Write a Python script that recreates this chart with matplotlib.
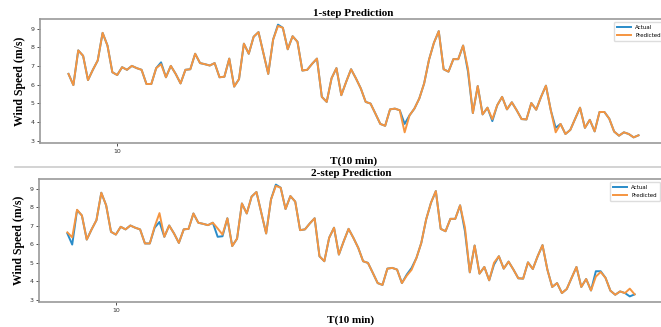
import matplotlib
matplotlib.use('Agg')
import matplotlib.pyplot as plt
from matplotlib.lines import Line2D
import numpy as np

# velocidade real do vento (m/s), mesma serie nos dois paineis
real = [6.58, 5.98, 7.84, 7.55, 6.25, 6.8, 7.3, 8.78, 8.1, 6.67,
        6.52, 6.94, 6.8, 7.01, 6.89, 6.8, 6.04, 6.04, 6.89, 7.2,
        6.4, 7.01, 6.58, 6.07, 6.8, 6.83, 7.66, 7.16, 7.1, 7.03,
        7.16, 6.4, 6.43, 7.4, 5.9, 6.3, 8.2, 7.66, 8.57, 8.82,
        7.7, 6.58, 8.42, 9.22, 9.05, 7.9, 8.6, 8.3, 6.76, 6.8,
        7.12, 7.4, 5.35, 5.08, 6.35, 6.89, 5.44, 6.16, 6.83, 6.34,
        5.8, 5.08, 4.99, 4.45, 3.9, 3.8, 4.68, 4.72, 4.63, 3.9,
        4.36, 4.72, 5.26, 6.07, 7.34, 8.24, 8.87, 6.83, 6.7, 7.37,
        7.37, 8.1, 6.7, 4.48, 5.93, 4.41, 4.77, 4.05, 4.9, 5.35,
        4.68, 5.06, 4.63, 4.16, 4.14, 5.02, 4.66, 5.35, 5.95, 4.63,
        3.69, 3.9, 3.36, 3.58, 4.18, 4.77, 3.69, 4.12, 3.5, 4.54,
        4.54, 4.18, 3.49, 3.27, 3.45, 3.36, 3.18, 3.29]

# previsao 1 passo
prev_1 = [6.58, 5.98, 7.84, 7.55, 6.25, 6.8, 7.3, 8.78, 8.1, 6.67,
          6.52, 6.94, 6.8, 7.01, 6.89, 6.8, 6.04, 6.04, 6.89, 7.1,
          6.4, 7.01, 6.58, 6.07, 6.8, 6.83, 7.66, 7.16, 7.1, 7.03,
          7.16, 6.4, 6.43, 7.4, 5.9, 6.3, 8.2, 7.66, 8.57, 8.82,
          7.7, 6.58, 8.42, 9.15, 9.05, 7.9, 8.6, 8.3, 6.76, 6.8,
          7.12, 7.4, 5.35, 5.08, 6.35, 6.89, 5.44, 6.16, 6.83, 6.34,
          5.8, 5.08, 4.99, 4.45, 3.9, 3.8, 4.68, 4.72, 4.63, 3.45,
          4.36, 4.72, 5.26, 6.07, 7.34, 8.24, 8.87, 6.83, 6.7, 7.37,
          7.37, 8.1, 6.85, 4.48, 5.93, 4.41, 4.77, 4.15, 4.9, 5.35,
          4.68, 5.06, 4.63, 4.16, 4.14, 5.02, 4.66, 5.35, 5.95, 4.63,
          3.45, 3.9, 3.36, 3.58, 4.18, 4.77, 3.69, 4.12, 3.5, 4.54,
          4.54, 4.18, 3.49, 3.27, 3.45, 3.36, 3.18, 3.29]

# previsao 2 passos
prev_2 = [6.64, 6.37, 7.86, 7.55, 6.25, 6.8, 7.3, 8.78, 8.1, 6.67,
          6.52, 6.94, 6.8, 7.01, 6.89, 6.8, 6.04, 6.04, 6.95, 7.68,
          6.4, 7.01, 6.58, 6.07, 6.8, 6.83, 7.66, 7.16, 7.1, 7.03,
          7.16, 6.85, 6.52, 7.4, 5.9, 6.3, 8.2, 7.66, 8.57, 8.82,
          7.7, 6.58, 8.42, 9.15, 9.05, 7.9, 8.6, 8.3, 6.76, 6.8,
          7.12, 7.4, 5.35, 5.08, 6.35, 6.89, 5.44, 6.16, 6.83, 6.34,
          5.8, 5.08, 4.99, 4.45, 3.9, 3.8, 4.68, 4.72, 4.63, 3.9,
          4.3, 4.62, 5.26, 6.07, 7.34, 8.24, 8.87, 6.83, 6.7, 7.37,
          7.37, 8.1, 6.9, 4.48, 5.93, 4.41, 4.77, 4.05, 5.0, 5.35,
          4.68, 5.06, 4.63, 4.16, 4.14, 5.02, 4.66, 5.35, 5.95, 4.63,
          3.69, 3.9, 3.36, 3.58, 4.18, 4.77, 3.69, 4.12, 3.5, 4.25,
          4.5, 4.18, 3.49, 3.27, 3.45, 3.36, 3.6, 3.29]

titulos = ['1-step Prediction', '2-step Prediction']
rotulo_x = 'T(10 min)'
rotulo_y = 'Wind Speed (m/s)'
ticks_x = [10]
ticks_y = [3, 4, 5, 6, 7, 8, 9]

W, H = 661, 327
fig = plt.figure(figsize=(W / 100, H / 100), dpi=100)

# posicoes dos eixos em pixels: (esquerda, topo, direita, base)
caixas = [(40, 19, 667, 143), (39, 179, 663, 302)]
serif = 'Liberation Serif'

t = np.arange(len(real))
for caixa, prev, titulo in zip(caixas, [prev_1, prev_2], titulos):
    e, topo, d, base = caixa
    ax = fig.add_axes([e / W, 1 - base / H, (d - e) / W, (base - topo) / H])
    ax.plot(t, real, color='#2a8cc9', lw=1.4, label='Actual')
    ax.plot(t, prev, color='#f59540', lw=1.4, label='Predicted')
    ax.set_xticks(ticks_x)
    ax.set_yticks(ticks_y)
    ax.tick_params(labelsize=4.5, colors='#333333', length=2.5, width=0.6, pad=1.5)
    for sp in ax.spines.values():
        sp.set_color('#9a9a9a')
        sp.set_linewidth(1.2)
    ax.set_title(titulo, fontsize=8, fontweight='bold', family=serif, pad=2.5)
    ax.set_xlabel(rotulo_x, fontsize=8, fontweight='bold', family=serif, labelpad=2)
    ax.set_ylabel(rotulo_y, fontsize=8.5, fontweight='bold', family=serif, labelpad=3)
    ax.legend(loc='upper right', fontsize=4, handlelength=2.5, framealpha=1,
              edgecolor='#dddddd', borderpad=0.6)

# linha cinza que separa os dois prints
fig.add_artist(Line2D([15 / W, 1], [1 - 167 / H, 1 - 167 / H], color='#cccccc', lw=1.2))

plt.savefig('out.png', dpi=100)
plt.close()
